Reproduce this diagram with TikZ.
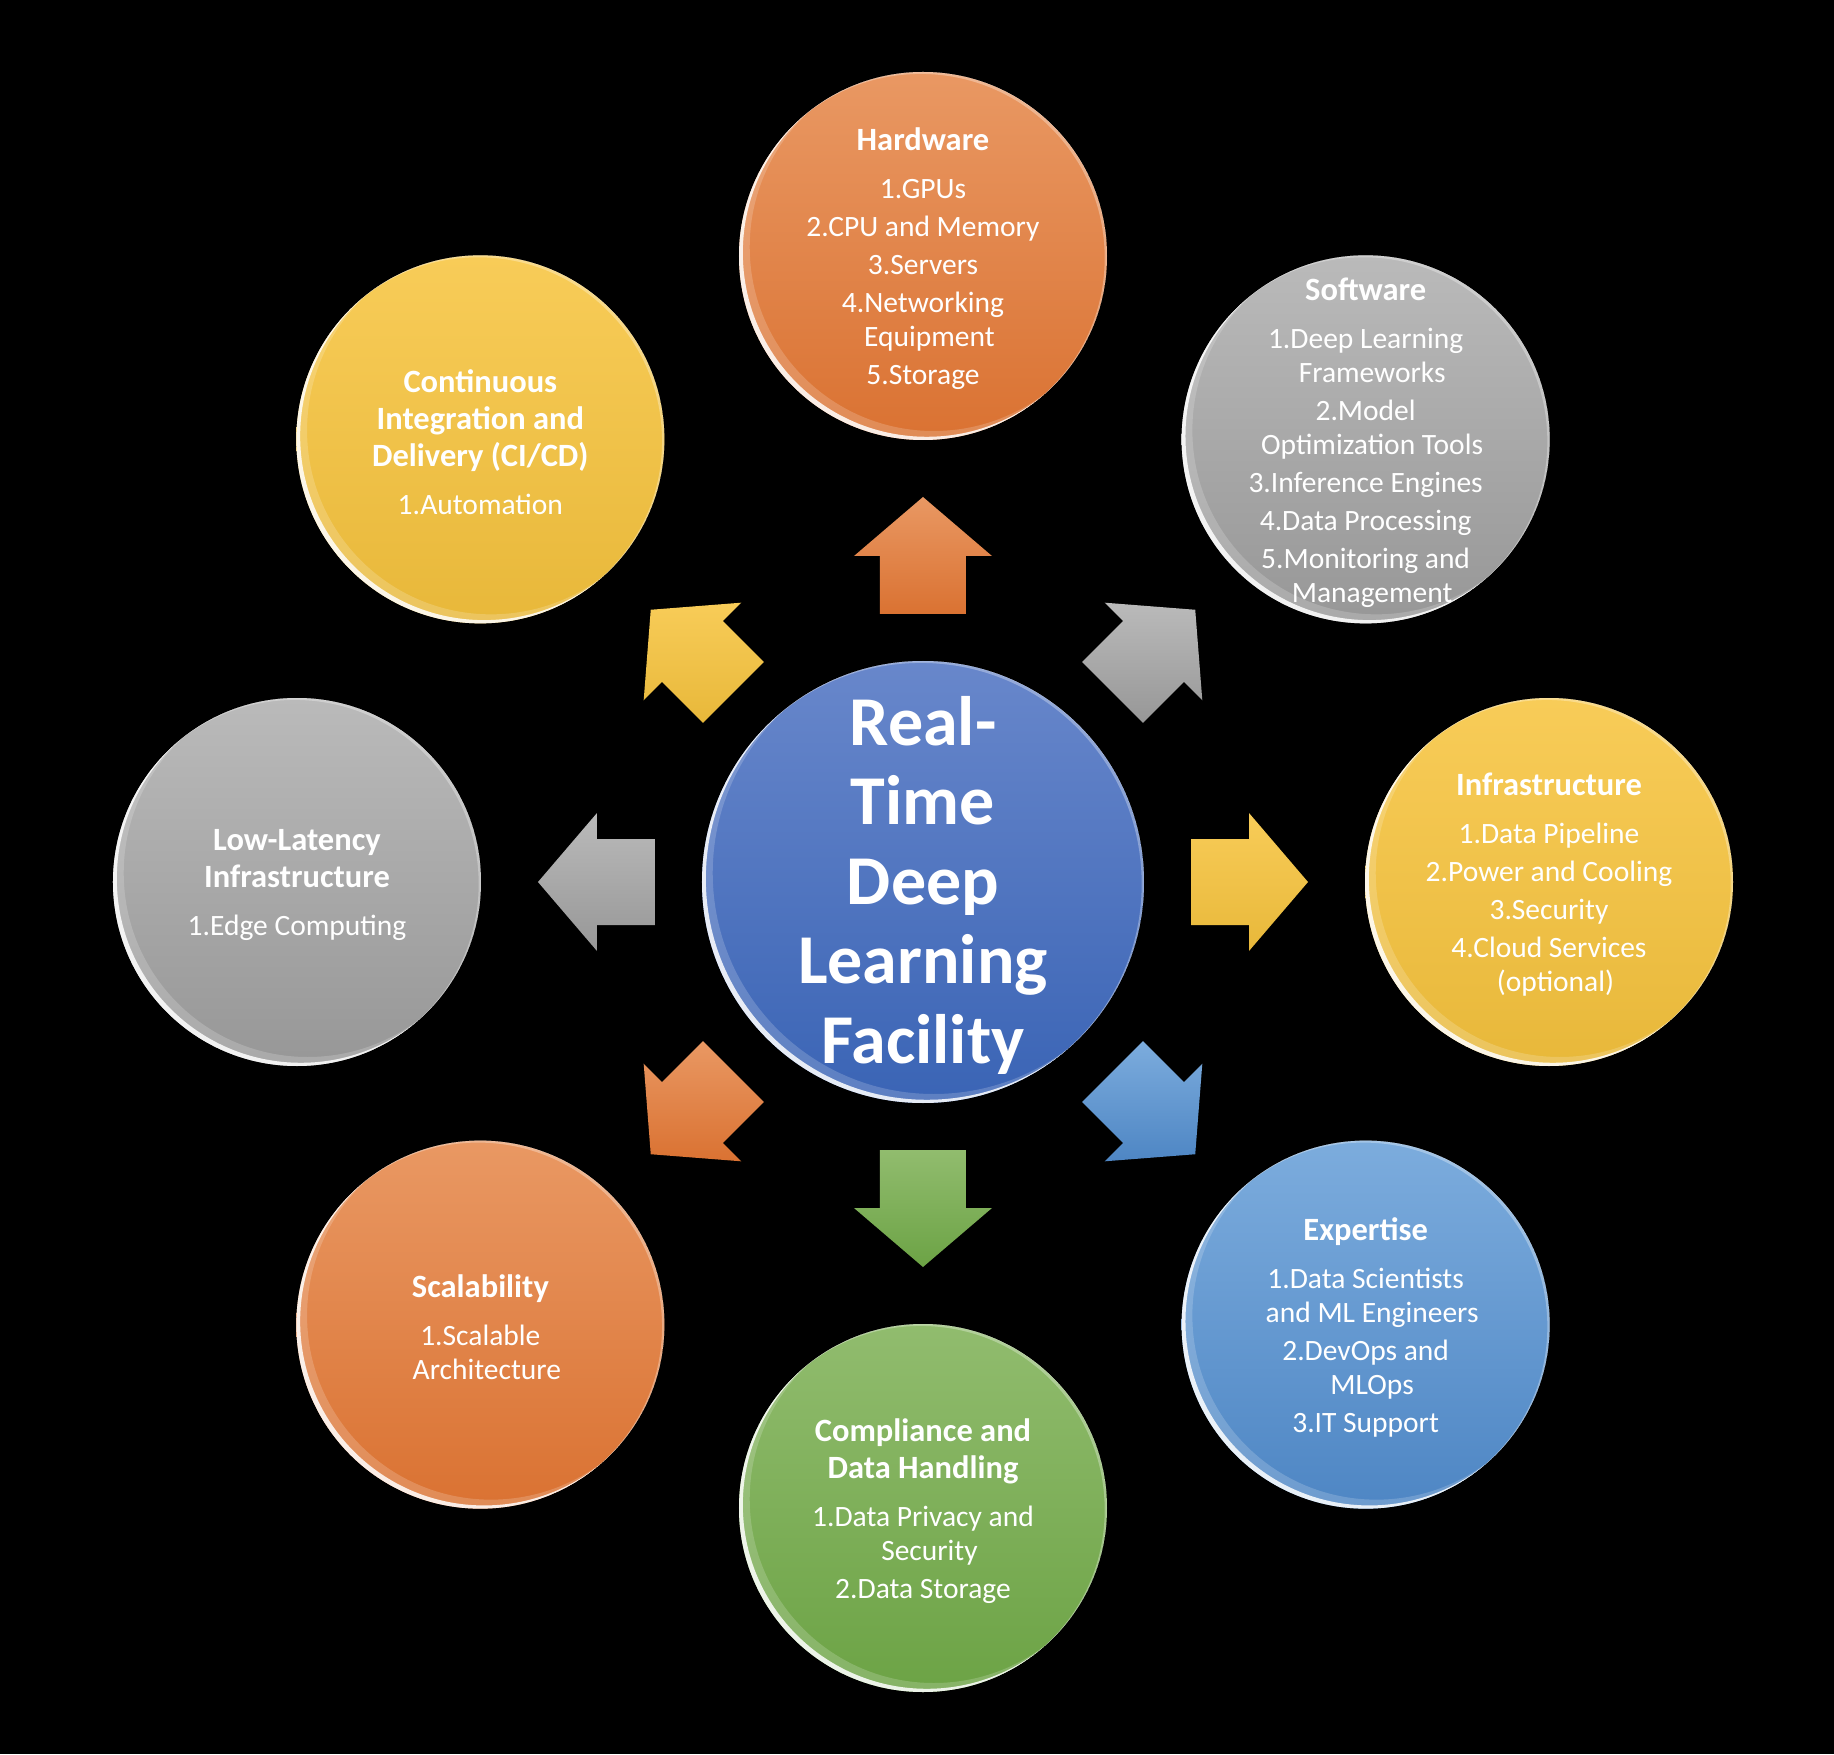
\documentclass[tikz,border=0pt]{standalone}
\usepackage{fontspec}
\setmainfont{Carlito}
\usetikzlibrary{calc}
\definecolor{orT}{HTML}{E99863}
\definecolor{orB}{HTML}{DA7232}
\definecolor{grT}{HTML}{BABABA}
\definecolor{grB}{HTML}{979797}
\definecolor{goT}{HTML}{F8CC58}
\definecolor{goB}{HTML}{E8B83A}
\definecolor{blT}{HTML}{7CACDD}
\definecolor{blB}{HTML}{4E86C4}
\definecolor{gnT}{HTML}{91BC6E}
\definecolor{gnB}{HTML}{6CA345}
\definecolor{ceT}{HTML}{6887CB}
\definecolor{ceB}{HTML}{3A64B5}
\newcommand\ttl[1]{{\fontsize{32.5}{34}\selectfont\bfseries #1}}
\newcommand\wrp{\hspace*{13pt}}
\newcommand\bubblefx[2]{%
  \begin{scope}
    \clip (#1.center) circle (#2);
    \fill[white,opacity=0.85,even odd rule] (#1.center) circle (#2) ($(#1.center)+(40:5)$) circle (#2);
    \fill[white,opacity=0.18,even odd rule] (#1.center) circle (#2) ($(#1.center)+(40:14)$) circle (#2);
    \fill[white,opacity=0.3,even odd rule] (#1.center) circle (#2) ($(#1.center)+(220:3)$) circle (#2);
  \end{scope}}
\tikzset{
  bubble/.style={circle, minimum size=368pt, inner sep=0pt},
  hub/.style={circle, minimum size=442pt, inner sep=0pt},
  txt/.style={text=white, align=center, font=\fontsize{29.5}{34}\selectfont, inner sep=0pt},
  hubtxt/.style={text=white, align=center, font=\fontsize{70}{79.5}\selectfont\bfseries, inner sep=0pt},
  fillorange/.style={top color=orT, bottom color=orB},
  fillgray/.style={top color=grT, bottom color=grB},
  fillgold/.style={top color=goT, bottom color=goB},
  fillblue/.style={top color=blT, bottom color=blB},
  fillgreen/.style={top color=gnT, bottom color=gnB},
  fillhub/.style={top color=ceT, bottom color=ceB},
}
\begin{document}
\begin{tikzpicture}[x=1pt,y=1pt]
\fill[black] (-923,-872) rectangle (911,882);
\useasboundingbox (-923,-872) rectangle (911,882);

% block arrows
\foreach \a/\c in {90/orange,45/gray,0/gold,-45/blue,-90/green,-135/orange,180/gray,135/gold}{
  \pgfmathsetmacro\b{\a+90}
  \path[fill\c] ($(\a:268)+(\b:43)$) -- ($(\a:326)+(\b:43)$) -- ($(\a:326)+(\b:69)$)
     -- (\a:385) -- ($(\a:326)+(\b:-69)$) -- ($(\a:326)+(\b:-43)$) -- ($(\a:268)+(\b:-43)$) -- cycle;
}

% circles
\node[hub, fillhub] (hub) at (0,0) {};
\node[bubble, fillorange] (hw) at (90:626) {};
\node[bubble, fillgray] (sw) at (45:626) {};
\node[bubble, fillgold] (inf) at (0:626) {};
\node[bubble, fillblue] (exp) at (-45:626) {};
\node[bubble, fillgreen] (comp) at (-90:626) {};
\node[bubble, fillorange] (scal) at (-135:626) {};
\node[bubble, fillgray] (lowl) at (180:626) {};
\node[bubble, fillgold] (cicd) at (135:626) {};

\bubblefx{hub}{221}
\bubblefx{hw}{184}
\bubblefx{sw}{184}
\bubblefx{inf}{184}
\bubblefx{exp}{184}
\bubblefx{comp}{184}
\bubblefx{scal}{184}
\bubblefx{lowl}{184}
\bubblefx{cicd}{184}

% texts
\node[hubtxt] (hubt) at ($(hub.center)+(0,-3)$) {Real-\\Time\\Deep\\Learning\\Facility};
\node[txt] (hwt) at ($(hw.center)+(0,-3)$) {\ttl{Hardware}\\[14pt]1.GPUs\\[4pt]2.CPU and Memory\\[4pt]3.Servers\\[4pt]4.Networking\\\wrp Equipment\\[4pt]5.Storage};
\node[txt] (swt) at ($(sw.center)+(0,-3)$) {\ttl{Software}\\[14pt]1.Deep Learning\\\wrp Frameworks\\[4pt]2.Model\hspace*{6pt}\\\wrp Optimization Tools\\[4pt]3.Inference Engines\\[4pt]4.Data Processing\\[4pt]5.Monitoring and\\\wrp Management};
\node[txt] (inft) at ($(inf.center)+(0,-3)$) {\ttl{Infrastructure}\\[14pt]1.Data Pipeline\\[4pt]2.Power and Cooling\\[4pt]3.Security\\[4pt]4.Cloud Services\\\wrp (optional)};
\node[txt] (expt) at ($(exp.center)+(0,-3)$) {\ttl{Expertise}\\[14pt]1.Data Scientists\\\wrp and ML Engineers\\[4pt]2.DevOps and\\\wrp MLOps\\[4pt]3.IT Support};
\node[txt] (compt) at ($(comp.center)+(0,-3)$) {\ttl{Compliance and}\\[3pt]\ttl{Data Handling}\\[14pt]1.Data Privacy and\\\wrp Security\\[4pt]2.Data Storage};
\node[txt] (scalt) at ($(scal.center)+(0,-3)$) {\ttl{Scalability}\\[14pt]1.Scalable\\\wrp Architecture};
\node[txt] (lowlt) at ($(lowl.center)+(0,-3)$) {\ttl{Low-Latency}\\[3pt]\ttl{Infrastructure}\\[14pt]1.Edge Computing};
\node[txt] (cicdt) at ($(cicd.center)+(0,-3)$) {\ttl{Continuous}\\[3pt]\ttl{Integration and}\\[3pt]\ttl{Delivery (CI/CD)}\\[14pt]1.Automation};
\end{tikzpicture}
\end{document}
